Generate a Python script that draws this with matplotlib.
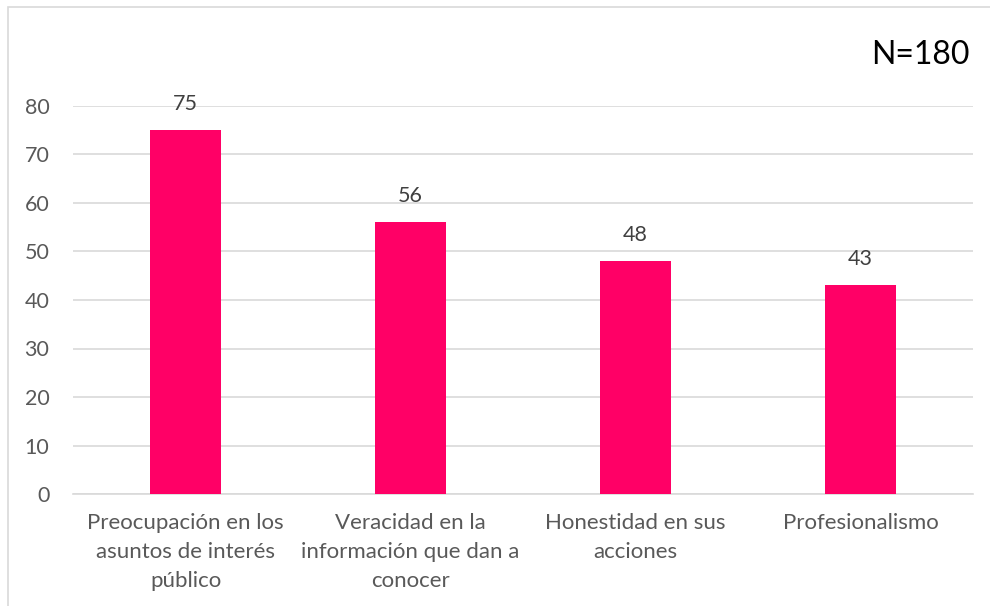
import matplotlib
matplotlib.use("Agg")
import matplotlib.pyplot as plt
from matplotlib.patches import Rectangle

# data
categories = ["Preocupación en los\nasuntos de interés\npúblico",
              "Veracidad en la\ninformación que dan a\nconocer",
              "Honestidad en sus\nacciones",
              "Profesionalismo"]
values = [75, 56, 48, 43]
yticks = [0, 10, 20, 30, 40, 50, 60, 70, 80]

plt.rcParams['font.family'] = ['Lato', 'DejaVu Sans']
text_grey = '#595959'
grid_grey = '#D9D9D9'

fig = plt.figure(figsize=(9.9, 6.06), dpi=100)
fig.patches.append(Rectangle((8 / 990, -0.1), 1.0, 1.1 - 7 / 606, transform=fig.transFigure,
                             fill=False, edgecolor=grid_grey, linewidth=1.2))
ax = fig.add_axes([73 / 990, 1 - 494 / 606, 900 / 990, 388 / 606])

x = range(len(categories))
bars = ax.bar(x, values, width=0.316, color='#FF0066', zorder=3)
for b, v in zip(bars, values):
    ax.text(b.get_x() + b.get_width() / 2, v + 3.3, str(v), ha='center', va='bottom',
            fontsize=15.5, color='#404040')

ax.set_xlim(-0.5, len(categories) - 0.5)
ax.set_ylim(0, 80)
ax.set_yticks(yticks)
ax.set_xticks(list(x))
ax.set_xticklabels(categories, fontsize=16, color=text_grey, linespacing=1.55)
ax.tick_params(axis='y', labelsize=15.5, labelcolor=text_grey, length=0, pad=17)
ax.tick_params(axis='x', length=0, pad=14)
ax.grid(axis='y', color=grid_grey, linewidth=1.2, zorder=0)
for s in ['top', 'right', 'left']:
    ax.spines[s].set_visible(False)
ax.spines['bottom'].set_color(grid_grey)
ax.spines['bottom'].set_linewidth(1.2)

fig.text(970 / 990, 1 - 55 / 606, "N=180", ha='right', va='center', fontsize=23, color='black')

fig.savefig("out.png", dpi=100)
